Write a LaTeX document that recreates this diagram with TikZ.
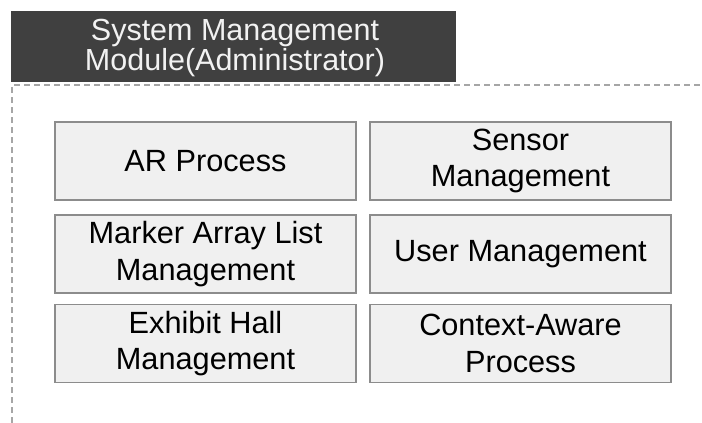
\documentclass[tikz,border=0pt]{standalone}
\usepackage{fontspec}
\setmainfont{Liberation Sans}
\definecolor{headfill}{HTML}{404040}
\definecolor{headtext}{HTML}{F2F2F2}
\definecolor{boxfill}{HTML}{F0F0F0}
\definecolor{boxline}{HTML}{8C8C8C}
\definecolor{frameline}{HTML}{A6A6A6}
\begin{document}
\begin{tikzpicture}[x=1pt,y=-1pt,
  header/.style={fill=headfill, draw=none, inner sep=0pt,
    minimum width=445pt, minimum height=71pt},
  headtitle/.style={text=headtext, inner sep=0pt, align=center,
    font=\fontsize{30.5}{30}\selectfont},
  modbox/.style={fill=boxfill, draw=boxline, line width=1.4pt, inner sep=0pt,
    minimum width=301pt, minimum height=78pt, align=center,
    font=\fontsize{30.7}{36.5}\selectfont},
  frame/.style={draw=frameline, line width=1.2pt, dash pattern=on 6pt off 4pt}]
  \useasboundingbox (0,0) rectangle (702,423);

  % module title bar
  \node[header] (title) at (233.5,46.5) {};
  \node[headtitle] (titletext) at (235,48) {System Management\\Module(Administrator)};

  % dashed module frame (open to the right and bottom)
  \coordinate (fbl) at (12,423);
  \coordinate (ftl) at (12,85);
  \coordinate (ftr) at (702,85);
  \draw[frame] (fbl) -- (ftl) -- (ftr);

  % sub-module boxes
  \node[modbox] (ar)     at (205.5,161)   {AR Process};
  \node[modbox] (sensor) at (520.5,161)   {Sensor\\Management};
  \node[modbox] (marker) at (205.5,254)   {Marker Array List\\Management};
  \node[modbox] (user)   at (520.5,254)   {User Management};
  \node[modbox] (hall)   at (205.5,343.5) {Exhibit Hall\\Management};
  \node[modbox] (ctx)    at (520.5,343.5) {Context-Aware\\Process};
\end{tikzpicture}
\end{document}
